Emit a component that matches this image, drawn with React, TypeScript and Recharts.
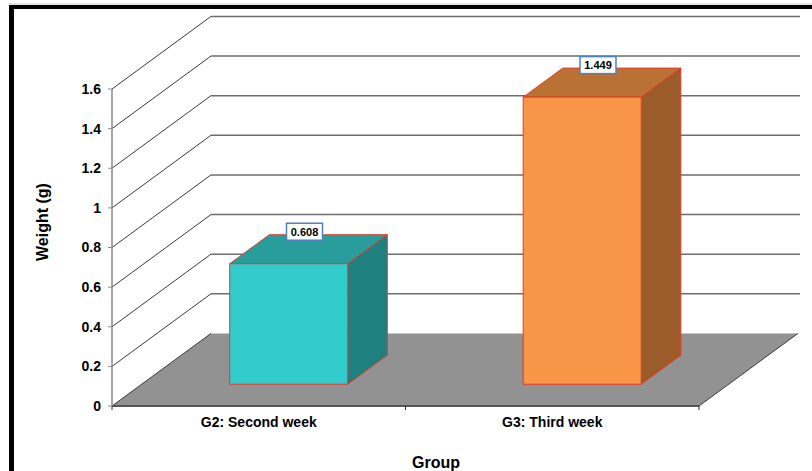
import React from "react";
import { BarChart, Bar, XAxis, YAxis, CartesianGrid, LabelList } from "recharts";

// Weight per group
const groups: string[] = ["G2: Second week", "G3: Third week"];
const weights: number[] = [0.608, 1.449];
const yTicks: number[] = [0, 0.2, 0.4, 0.6, 0.8, 1, 1.2, 1.4, 1.6];

// face colours of each box: front, top, side
const frontColors = ["#33cccc", "#f79646"];
const topColors = ["#299c9c", "#b97234"];
const sideColors = ["#1f8080", "#9b5c2a"];

const data = groups.map((group, i) => ({ group, weight: weights[i] }));

// 3D depth of the floor / back wall, and where the boxes sit inside it
const DEPTH_X = 99;
const DEPTH_Y = 72.6;
const BAR_FRONT = 0.3;
const BAR_BACK = 0.7;

const FONT = "'Liberation Sans', Arial, sans-serif";

function Box3D(props: any) {
  const { x, y, width, height, payload } = props;
  const i = groups.indexOf(payload.group);
  const fx = x + DEPTH_X * BAR_FRONT;
  const fy = y - DEPTH_Y * BAR_FRONT;
  const dx = DEPTH_X * (BAR_BACK - BAR_FRONT);
  const dy = DEPTH_Y * (BAR_BACK - BAR_FRONT);
  return (
    <g stroke="#e63a2a" strokeWidth={1} strokeLinejoin="round">
      <polygon
        points={`${fx},${fy} ${fx + dx},${fy - dy} ${fx + width + dx},${fy - dy} ${fx + width},${fy}`}
        fill={topColors[i]}
      />
      <polygon
        points={`${fx + width},${fy} ${fx + width + dx},${fy - dy} ${fx + width + dx},${fy + height - dy} ${fx + width},${fy + height}`}
        fill={sideColors[i]}
      />
      <rect x={fx} y={fy} width={width} height={height} fill={frontColors[i]} />
    </g>
  );
}

// value box sitting on the top face of each box
function ValueTag(props: any) {
  const { x, y, width, value } = props;
  const cx = x + width / 2 + DEPTH_X * (BAR_FRONT + BAR_BACK) / 2 - 4;
  const cy = y - DEPTH_Y * BAR_BACK - 3;
  const text = String(value);
  const w = text.length * 6 + 6;
  return (
    <g>
      <rect x={cx - w / 2} y={cy - 8.5} width={w} height={17} fill="#fff" stroke="#4f81bd" strokeWidth={1.5} />
      <text x={cx} y={cy + 4} textAnchor="middle" fontFamily={FONT} fontWeight="bold" fontSize={11} fill="#000">
        {text}
      </text>
    </g>
  );
}

// each horizontal grid line becomes a diagonal on the side plus a line on the back wall;
// the zero line becomes the floor
function WallLine(props: any) {
  const { x1, y1, x2, y, height, index } = props;
  const bx = x1 + DEPTH_X;
  const by = y1 - DEPTH_Y;
  const isFloor = Math.abs(y1 - (y + height)) < 0.5;
  if (isFloor) {
    const mid = (x1 + x2) / 2;
    return (
      <g key={`wall-${index}`}>
        <polygon
          points={`${x1},${y1} ${bx},${by} ${x2 + DEPTH_X},${by} ${x2},${y1}`}
          fill="#929292"
        />
        <line x1={x1} y1={y1} x2={bx} y2={by} stroke="#3a3a3a" strokeWidth={1} />
        <line x1={x2} y1={y1} x2={x2 + DEPTH_X} y2={by} stroke="#3a3a3a" strokeWidth={1} />
        <line x1={x1} y1={y1} x2={x2} y2={y1} stroke="#555" strokeWidth={2} />
        {[x1, mid, x2].map((tx, k) => (
          <line key={k} x1={tx} y1={y1} x2={tx} y2={y1 + 4} stroke="#333" strokeWidth={1} />
        ))}
      </g>
    );
  }
  return (
    <g key={`wall-${index}`}>
      <line x1={x1} y1={y1} x2={bx} y2={by} stroke="#3a3a3a" strokeWidth={1} />
      <line x1={bx} y1={by} x2={x2 + DEPTH_X + 2} y2={by} stroke="#6e6e6e" strokeWidth={1.5} />
    </g>
  );
}

function WeightLabel() {
  return (
    <text
      x={48}
      y={222}
      transform="rotate(-90 48 222)"
      textAnchor="middle"
      fontFamily={FONT}
      fontWeight="bold"
      fontSize={16}
      fill="#000"
    >
      Weight (g)
    </text>
  );
}

function GroupLabel() {
  return (
    <text x={436} y={468} textAnchor="middle" fontFamily={FONT} fontWeight="bold" fontSize={16} fill="#000">
      Group
    </text>
  );
}

export default function App() {
  return (
    <div style={{ position: "absolute", left: 0, top: 0, width: 812, height: 471, overflow: "hidden", background: "#fff" }}>
      <div style={{ position: "absolute", left: 9, top: 3, width: 803, height: 2, background: "#e4e4e4" }} />
      <div
        style={{
          position: "absolute",
          left: 9,
          top: 5,
          width: 900,
          height: 600,
          borderLeft: "5px solid #000",
          borderTop: "4px solid #000",
        }}
      />
      <div style={{ position: "absolute", left: 0, top: 0 }}>
        <BarChart
          width={812}
          height={471}
          data={data}
          margin={{ top: 89, right: 113, bottom: 0, left: 0 }}
        >
          <CartesianGrid vertical={false} horizontal={WallLine} />
          <XAxis
            dataKey="group"
            height={65}
            axisLine={false}
            tickLine={false}
            tickSize={4}
            tickMargin={7}
            tick={{ fontFamily: FONT, fontWeight: "bold", fontSize: 14, fill: "#000" }}
            label={<GroupLabel />}
          />
          <YAxis
            width={112}
            domain={[0, 1.6]}
            ticks={yTicks}
            interval={0}
            axisLine={{ stroke: "#8a8a8a", strokeWidth: 1.5 }}
            tickLine={{ stroke: "#8a8a8a" }}
            tickSize={4}
            tickMargin={7}
            tick={{ fontFamily: FONT, fontWeight: "bold", fontSize: 14, fill: "#000" }}
            label={<WeightLabel />}
          />
          <Bar dataKey="weight" barSize={118} shape={<Box3D />} isAnimationActive={false}>
            <LabelList dataKey="weight" content={<ValueTag />} />
          </Bar>
        </BarChart>
      </div>
    </div>
  );
}
